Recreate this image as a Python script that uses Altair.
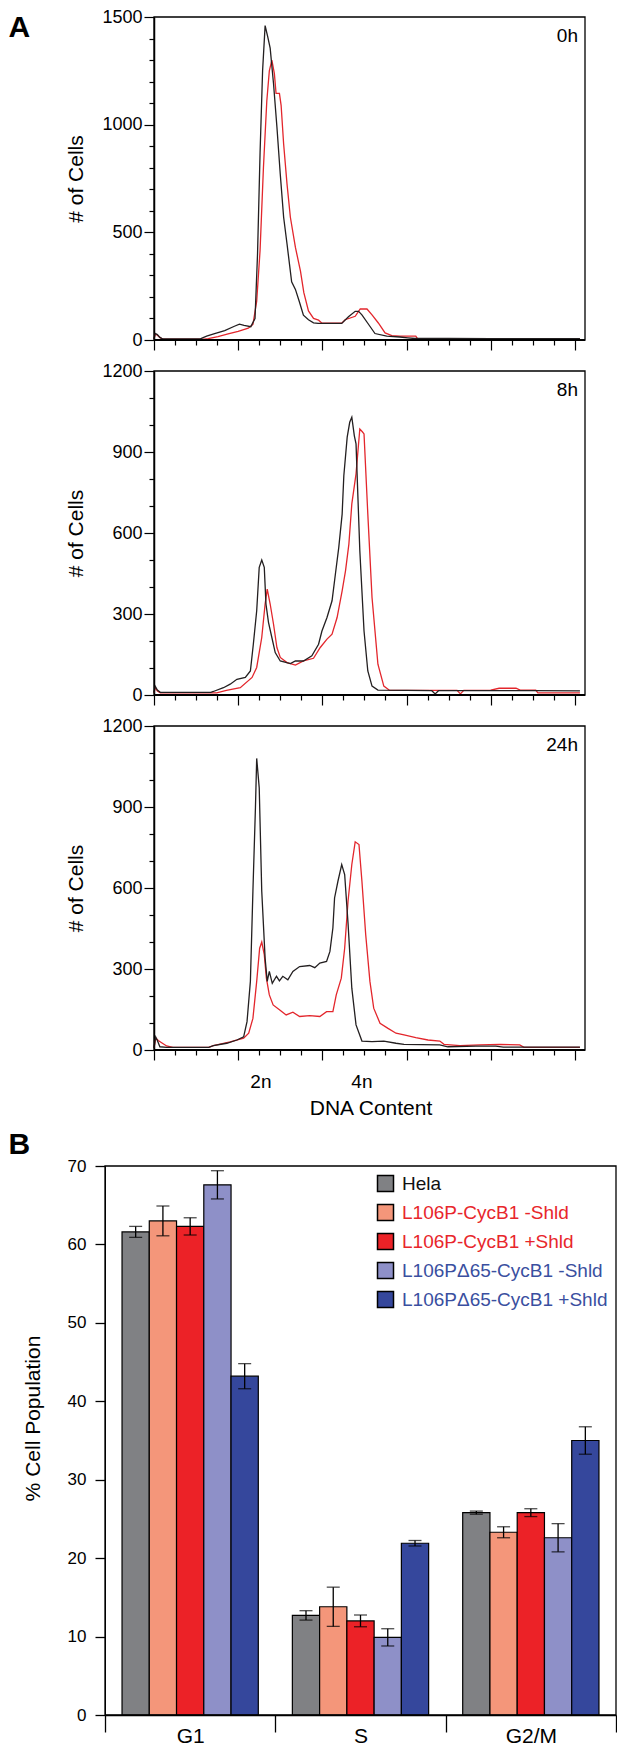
import altair as alt
import pandas as pd

FONT = "Liberation Sans"

# ---------------- Panel A : DNA content histograms (channel, # of cells) ----------------
h0_black_ch = [0, 3, 8, 14, 20, 60, 110, 125, 144, 168, 191, 203, 214, 230, 240, 246, 252, 258, 264, 270, 276, 284, 292, 300, 308, 316, 327, 336, 345, 355, 367, 379, 390, 446, 462, 478, 486, 494, 510, 525, 553, 584, 603, 620, 700, 800, 900, 1012]
h0_black_ct = [5, 30, 25, 12, 5, 5, 5, 18, 30, 44, 64, 74, 68, 62, 100, 400, 870, 1250, 1460, 1410, 1355, 1190, 990, 770, 570, 447, 270, 235, 180, 115, 94, 80, 77, 77, 108, 133, 133, 117, 72, 30, 18, 14, 10, 7, 7, 6, 6, 6]
h0_red_ch = [0, 3, 8, 15, 22, 60, 120, 129, 152, 176, 200, 224, 235, 244, 252, 260, 268, 274, 280, 286, 290, 298, 302, 308, 316, 324, 336, 348, 356, 367, 379, 391, 399, 446, 454, 478, 490, 506, 518, 533, 549, 565, 584, 622, 626, 700, 850, 1012]
h0_red_ct = [5, 28, 22, 10, 4, 4, 4, 6, 16, 28, 40, 55, 72, 180, 416, 800, 1110, 1250, 1300, 1237, 1145, 1145, 1090, 910, 725, 570, 430, 320, 220, 135, 100, 92, 78, 78, 94, 110, 144, 144, 117, 79, 33, 20, 18, 18, 6, 5, 5, 5]

h8_black_ch = [0, 3, 8, 15, 60, 135, 141, 165, 181, 197, 217, 229, 236, 244, 250, 256, 262, 266, 272, 280, 288, 300, 324, 336, 355, 375, 391, 399, 411, 423, 431, 439, 447, 451, 459, 465, 470, 476, 480, 489, 499, 508, 518, 532, 600, 660, 668, 676, 700, 800, 900, 1012]
h8_black_ct = [10, 32, 18, 10, 10, 10, 13, 27, 40, 58, 65, 89, 188, 312, 473, 500, 473, 337, 269, 213, 157, 126, 116, 126, 126, 145, 188, 237, 287, 349, 448, 547, 670, 812, 955, 1010, 1029, 960, 930, 534, 237, 89, 33, 18, 17, 16, 4, 16, 16, 16, 16, 15]
h8_red_ch = [0, 3, 8, 15, 100, 149, 172, 205, 233, 244, 256, 264, 269, 276, 284, 292, 300, 316, 336, 355, 379, 395, 411, 423, 435, 447, 455, 463, 470, 480, 489, 495, 499, 508, 518, 532, 546, 560, 650, 720, 728, 736, 800, 820, 860, 870, 907, 912, 1012]
h8_red_ct = [8, 28, 15, 8, 8, 8, 17, 27, 65, 102, 213, 337, 392, 337, 262, 176, 139, 120, 111, 126, 136, 176, 207, 225, 287, 386, 460, 559, 708, 819, 985, 975, 967, 670, 361, 114, 33, 17, 17, 17, 4, 17, 18, 25, 25, 18, 18, 8, 8]

h24_black_ch = [0, 4, 8, 14, 30, 130, 141, 173, 197, 213, 221, 229, 235, 241, 244, 250, 256, 264, 269, 274, 281, 291, 298, 306, 318, 330, 346, 370, 382, 394, 410, 418, 425, 429, 437, 446, 453, 461, 470, 480, 494, 518, 546, 575, 594, 679, 698, 765, 812, 830, 1012]
h24_black_ct = [8, 48, 35, 12, 10, 10, 16, 25, 37, 49, 105, 254, 588, 897, 1080, 971, 588, 340, 254, 291, 247, 273, 256, 273, 260, 291, 309, 313, 305, 322, 328, 365, 452, 563, 625, 687, 650, 470, 229, 93, 33, 31, 33, 25, 21, 19, 12, 14, 14, 11, 11]
h24_red_ch = [0, 4, 10, 20, 30, 45, 130, 141, 181, 213, 225, 235, 244, 251, 256, 262, 267, 274, 283, 298, 314, 330, 346, 370, 394, 410, 425, 433, 445, 453, 461, 470, 478, 487, 494, 503, 513, 522, 537, 556, 575, 594, 622, 651, 679, 689, 727, 774, 822, 869, 879, 1012]
h24_red_ct = [8, 45, 35, 25, 15, 10, 10, 16, 30, 44, 62, 117, 254, 377, 400, 353, 266, 204, 167, 149, 130, 140, 124, 127, 124, 142, 142, 204, 266, 377, 551, 687, 771, 761, 625, 427, 254, 155, 99, 80, 62, 56, 46, 37, 33, 21, 16, 19, 21, 19, 10, 10]

TIME_LABELS = ["0h", "8h", "24h"]
Y_MAX = [1500, 1200, 1200]
Y_LABEL_STEP = [500, 300, 300]
SAMPLES = ["control", "mutant"]
LINE_COLORS = ["#231f20", "#e3262c"]

PLOIDY_LABELS = ["2n", "4n"]
PLOIDY_CH = [254, 494]

# ---------------- Panel B : cell-cycle distribution ----------------
PHASES = ["G1", "S", "G2/M"]
SERIES = ["Hela", "L106P-CycB1 -Shld", "L106P-CycB1 +Shld",
          "L106PΔ65-CycB1 -Shld", "L106PΔ65-CycB1 +Shld"]
BAR_COLORS = ["#808184", "#F4967A", "#EC2227", "#8E90C8", "#35479C"]
MEAN_G1 = [61.6, 63.0, 62.3, 67.6, 43.2]
ERR_G1 = [0.7, 1.9, 1.1, 1.8, 1.6]
MEAN_S = [12.7, 13.8, 12.0, 9.9, 21.9]
ERR_S = [0.6, 2.5, 0.75, 1.1, 0.35]
MEAN_G2M = [25.8, 23.3, 25.8, 22.6, 35.0]
ERR_G2M = [0.2, 0.7, 0.5, 1.8, 1.75]

# ---------------- layout ----------------
SHIFT_A = 49           # panel A frame starts this far right of panel B's frame
W_A = 480              # panel A view width (frame occupies SHIFT_A..W_A)
PX_PER_CH = (W_A - SHIFT_A) / 1024.0
X_MIN_A = -SHIFT_A / PX_PER_CH
H_A = [323, 324, 324]
W_B = 511
H_B = 549
LETTER_X = -96.5


def hist_df(bch, bct, rch, rct):
    rows = []
    for c, v in zip(rch, rct):
        rows.append({"ch": c, "count": v, "sample": SAMPLES[1], "ord": 0})
    for c, v in zip(bch, bct):
        rows.append({"ch": c, "count": v, "sample": SAMPLES[0], "ord": 1})
    return pd.DataFrame(rows)


one_row = pd.DataFrame({"f": [0]})


def hist_panel(i, df, show_x, show_letter):
    ymax = Y_MAX[i]
    step = Y_LABEL_STEP[i]
    H = H_A[i]
    x_axis = alt.Axis(
        values=list(range(0, 1001, 50)), labels=False, domain=False,
        tickSize={"condition": {"test": "datum.value % 200 === 0", "value": 10}, "value": 5},
        tickColor="black", tickWidth=1.2,
        grid=False, title="DNA Content" if show_x else None,
        titleFontSize=21, titleFontWeight="normal", titleFont=FONT,
        titleBaseline="alphabetic", titleY=64, titleX=265.5, titleAlign="center",
        titleColor="black")
    x_enc = alt.X("ch:Q", scale=alt.Scale(domain=[X_MIN_A, 1024], nice=False, zero=False), axis=x_axis)
    y_axis = alt.Axis(
        values=list(range(0, ymax + 1, 100)), format="d", offset=-SHIFT_A,
        labelExpr=f"datum.value % {step} === 0 ? datum.label : ''",
        tickSize={"condition": {"test": f"datum.value % {step} === 0", "value": 10}, "value": 5},
        tickColor="black", tickWidth=1.2, domainColor="black", domainWidth=1.5,
        labelFontSize=18, labelFont=FONT, labelPadding=2, labelColor="black",
        grid=False, title="# of Cells", titleFontSize=21, titleFont=FONT,
        titleFontWeight="normal", titlePadding=15, titleColor="black")
    frame = alt.Chart(one_row).mark_rect(filled=False, stroke="black", strokeWidth=1.3).encode(
        x=alt.value(SHIFT_A), x2=alt.value(W_A), y=alt.value(0), y2=alt.value(H))
    base = alt.Chart(one_row).mark_rule(color="black", strokeWidth=2.2).encode(
        x=alt.value(SHIFT_A), x2=alt.value(W_A), y=alt.value(H))
    lines = alt.Chart(df).mark_line(strokeWidth=1.3).encode(
        x=x_enc,
        y=alt.Y("count:Q", scale=alt.Scale(domain=[0, ymax], nice=False), axis=y_axis),
        color=alt.Color("sample:N", scale=alt.Scale(domain=SAMPLES, range=LINE_COLORS), legend=None),
        detail="ord:N",
    )
    tlabel = alt.Chart(pd.DataFrame({"t": [TIME_LABELS[i]]})).mark_text(
        align="right", baseline="alphabetic", fontSize=19, font=FONT, color="black"
    ).encode(x=alt.value(W_A - 7), y=alt.value(25), text="t:N")
    layers = [lines, frame, base, tlabel]
    if show_letter:
        letter = alt.Chart(pd.DataFrame({"t": ["A"]})).mark_text(
            align="left", baseline="alphabetic", fontSize=30, fontWeight="bold", font=FONT,
            color="black"
        ).encode(x=alt.value(LETTER_X), y=alt.value(19.5), text="t:N")
        layers.append(letter)
    if show_x:
        ploidy = alt.Chart(pd.DataFrame({"ch": PLOIDY_CH, "lab": PLOIDY_LABELS})).mark_text(
            baseline="alphabetic", fontSize=19, font=FONT, color="black"
        ).encode(x=x_enc, y=alt.value(H + 38), text="lab:N")
        layers.append(ploidy)
    return alt.layer(*layers).properties(width=W_A, height=H)


c0 = hist_panel(0, hist_df(h0_black_ch, h0_black_ct, h0_red_ch, h0_red_ct), False, True)
c8 = hist_panel(1, hist_df(h8_black_ch, h8_black_ct, h8_red_ch, h8_red_ct), False, False)
c24 = hist_panel(2, hist_df(h24_black_ch, h24_black_ct, h24_red_ch, h24_red_ct), True, False)

# ---- panel B data table ----
rows = []
for ph, means, errs in zip(PHASES, [MEAN_G1, MEAN_S, MEAN_G2M], [ERR_G1, ERR_S, ERR_G2M]):
    for s, m, e in zip(SERIES, means, errs):
        rows.append({"phase": ph, "series": s, "mean": m, "lo": m - e, "hi": m + e})
df_b = pd.DataFrame(rows)

xb_axis = alt.Axis(title=None, tickBand="extent", tickSize=17, labelPadding=-7,
                   labelFontSize=21, labelFont=FONT, labelAngle=0, labelColor="black",
                   domainColor="black", domainWidth=1.3, tickColor="black", tickWidth=1.3)
xb = alt.X("phase:N", sort=PHASES,
           scale=alt.Scale(domain=PHASES, paddingInner=0, paddingOuter=0), axis=xb_axis)
xo = alt.XOffset("series:N", sort=SERIES, scale=alt.Scale(domain=SERIES, paddingInner=0, paddingOuter=0.625))
yb_axis = alt.Axis(values=list(range(0, 71, 10)), tickSize=10, tickColor="black", tickWidth=1.3,
                   domainColor="black", labelPadding=9, labelFontSize=17,
                   labelFont=FONT, labelColor="black", grid=False, title="% Cell Population",
                   titleFontSize=21, titleFont=FONT, titleFontWeight="normal", titlePadding=24,
                   titleY=252, titleColor="black")
yscale_b = alt.Scale(domain=[0, 70], nice=False)

label_color_expr = ("datum.label == 'Hela' ? '#111111' : "
                    "(indexof(datum.label, 'Δ') >= 0 ? '#3A4FA0' : '#E8262B')")

frame_b = alt.Chart(one_row).mark_rect(filled=False, stroke="black", strokeWidth=1.3).encode(
    x=alt.value(0), x2=alt.value(W_B), y=alt.value(0), y2=alt.value(H_B))

bars = alt.Chart(df_b).mark_bar(stroke="black", strokeWidth=1.2).encode(
    x=xb, xOffset=xo,
    y=alt.Y("mean:Q", scale=yscale_b, axis=yb_axis),
    color=alt.Color("series:N", sort=SERIES, scale=alt.Scale(domain=SERIES, range=BAR_COLORS),
                    legend=alt.Legend(orient="none", legendX=271, legendY=8, title=None,
                                      symbolType="square", symbolSize=256,
                                      symbolStrokeColor="black", symbolStrokeWidth=1.5,
                                      symbolOpacity=1, labelFontSize=19, labelFont=FONT,
                                      labelOffset=7, rowPadding=6, padding=0, labelLimit=0,
                                      labelColor={"expr": label_color_expr})),
)
err = alt.Chart(df_b).mark_rule(color="black", strokeWidth=1.3).encode(
    x=xb, xOffset=xo,
    y=alt.Y("lo:Q", scale=yscale_b, axis=yb_axis), y2="hi:Q")
caps = alt.Chart(df_b).transform_fold(["lo", "hi"], as_=["k", "v"]).mark_tick(
    color="black", size=13, thickness=1.3).encode(
    x=xb, xOffset=xo, y=alt.Y("v:Q", scale=yscale_b, axis=yb_axis))
letter_b = alt.Chart(pd.DataFrame({"t": ["B"]})).mark_text(
    align="left", baseline="alphabetic", fontSize=30, fontWeight="bold", font=FONT, color="black"
).encode(x=alt.value(LETTER_X), y=alt.value(-12.3), text="t:N")

cb = alt.layer(bars, err, caps, frame_b, letter_b).properties(width=W_B, height=H_B)

chart = alt.vconcat(c0, c8, c24, cb, spacing=11).resolve_scale(
    color="independent"
).properties(
    padding={"left": 0, "right": 0, "top": 0, "bottom": 0}
).configure(font=FONT, background="white").configure_view(strokeWidth=0)

chart.save("out.html", embed_options={"renderer": "svg", "actions": False})
